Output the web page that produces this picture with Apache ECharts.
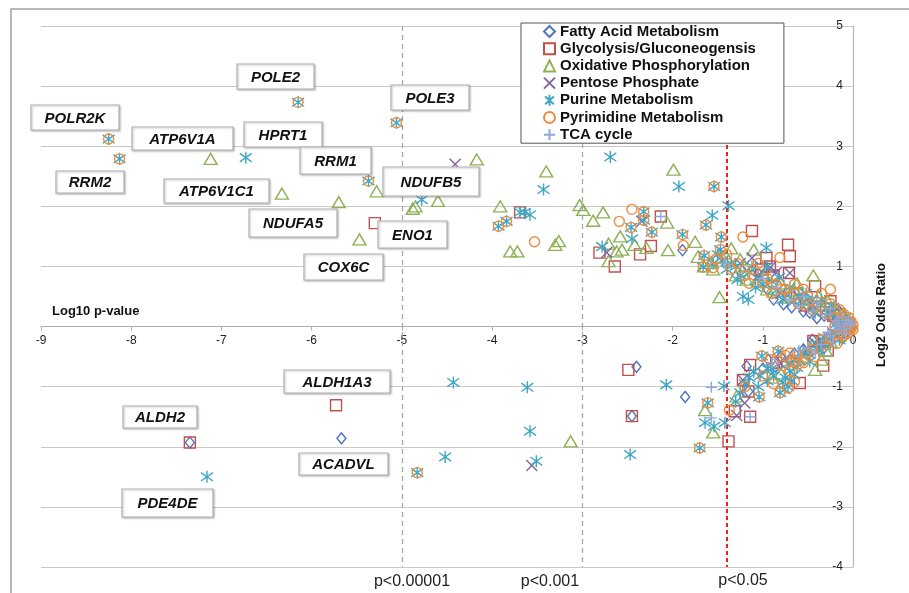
<!DOCTYPE html>
<html><head><meta charset="utf-8">
<script src="https://cdn.jsdelivr.net/npm/echarts@6/dist/echarts.min.js"></script>
<style>html,body{margin:0;padding:0;background:#fff}#c{width:909px;height:593px}</style>
</head><body><div id="c"></div><script>
// ---------- DATA ----------
const categories = ['Fatty Acid Metabolism','Glycolysis/Gluconeogensis','Oxidative Phosphorylation','Pentose Phosphate','Purine Metabolism','Pyrimidine Metabolism','TCA cycle'];

const fattyAcid = [
 [-7.35,-1.93],[-5.67,-1.86],[-2.40,-0.67],[-2.45,-1.49],[-1.86,-1.17],[-1.89,1.27],
 [-1.18,-0.66],[-1.16,-1.08],[-0.94,-0.55],[-0.86,-0.67],[-0.38,-0.33],[-0.55,-0.38],
 [-0.77,0.37],[-0.48,0.23],[-0.40,0.14],[-0.62,0.45],[-0.25,0.18],[-0.12,0.06],[-0.05,-0.04],
 [-0.28,-0.18],[-0.70,-0.55],[-0.18,-0.10],[-0.08,0.12],[-0.95,0.62],[-1.05,0.88],[-0.15,0.25],[-0.02,0.0],
 [-0.88,0.45],[-0.68,0.32],[-0.55,0.25],[-0.32,0.18],[-0.20,0.08],
 [-0.80,-0.50],[-0.65,-0.45],[-0.45,-0.22],[-0.32,-0.35],[-0.12,-0.20],[-1.00,-0.70]
];
const glycolysis = [
 [-7.35,-1.93],[-5.73,-1.31],[-5.30,1.72],[-3.69,1.90],[-2.81,1.23],[-2.64,1.00],[-2.36,1.20],[-2.24,1.34],[-2.13,1.83],
 [-1.12,1.59],[-0.72,1.36],[-0.70,1.17],[-0.96,1.14],[-0.71,0.89],[-0.92,1.00],[-0.42,0.67],[-1.02,0.95],
 [-2.49,-0.72],[-2.45,-1.49],[-1.38,-1.91],[-1.31,-1.41],[-1.14,-1.50],[-1.22,-0.89],[-1.14,-0.64],[-1.16,-1.08],
 [-0.59,-0.94],[-0.44,-0.24],[-0.33,-0.65],[-0.22,0.18],[-0.12,-0.10],[-0.30,0.30],[-0.05,0.05],
 [-0.88,0.85],[-0.62,0.55],[-0.52,0.35],[-0.25,0.42],[-0.15,0.20],
 [-0.85,-0.60],[-0.28,-0.40],[-0.18,-0.15],[-0.08,-0.02]
];
const oxidative = [
 [-7.12,2.79],[-6.33,2.21],[-5.70,2.07],[-5.28,2.25],[-5.47,1.45],[-4.88,1.96],[-4.85,2.0],[-4.60,2.09],[-4.17,2.78],
 [-3.40,2.58],[-3.91,2.00],[-3.80,1.25],[-3.72,1.25],[-3.30,1.36],[-3.26,1.42],[-3.03,2.02],[-2.99,1.94],[-2.88,1.76],
 [-2.77,1.90],[-2.58,1.50],[-2.71,1.38],[-2.56,1.28],[-2.71,1.09],[-2.62,1.25],[-2.42,1.36],[-2.29,1.31],[-2.05,1.27],
 [-2.06,1.73],[-1.99,2.61],[-1.75,1.41],[-1.72,1.16],[-1.48,0.49],[-1.65,1.00],[-1.58,1.06],
 [-1.45,1.15],[-1.35,1.30],[-1.30,0.85],[-1.20,1.00],[-1.10,1.28],[-1.05,0.75],[-0.95,0.62],[-0.80,0.72],[-0.65,0.60],
 [-0.55,0.45],[-0.44,0.85],[-0.35,0.35],[-0.25,0.25],[-0.15,0.15],[-0.08,0.05],[-1.55,0.95],
 [-1.38,1.10],[-1.25,1.12],[-1.18,0.78],[-0.98,0.85],[-0.88,0.58],[-0.72,0.48],[-0.62,0.72],[-0.50,0.38],
 [-0.38,0.50],[-0.28,0.42],[-0.20,0.30],[-0.10,0.20],[-0.05,0.10],
 [-3.13,-1.91],[-1.64,-1.39],[-1.55,-1.76],[-1.29,-1.16],[-0.42,-0.72],[-0.80,-0.78],[-0.30,-0.40],[-0.15,-0.15],[-0.55,-0.50],
 [-0.90,-0.85],[-0.65,-0.55],[-0.45,-0.30],[-0.25,-0.25],[-0.10,-0.10],[-0.35,-0.55]
];
const pentose = [
 [-4.41,2.70],[-3.56,-2.31],[-2.34,1.75],[-2.73,1.23],[-1.29,-1.48],[-1.22,-0.89],[-1.20,-1.27],[-1.12,1.14],
 [-0.92,0.98],[-0.70,0.89],[-1.05,0.85],[-0.50,-0.40],[-0.35,-0.25],[-0.60,0.50],[-0.25,0.20],[-0.10,0.0],
 [-1.25,1.05],[-0.85,0.90],[-0.80,0.55],[-0.45,0.35],[-0.15,0.10],
 [-0.80,-0.62],[-0.22,-0.12],[-0.42,-0.28]
];
const purine = [
 [-8.25,3.12],[-8.13,2.79],[-6.73,2.81],[-6.15,3.73],[-5.06,3.39],[-5.37,2.42],[-4.78,2.11],[-3.43,2.28],
 [-3.93,1.67],[-3.84,1.75],[-3.69,1.90],[-3.58,1.86],[-3.64,1.90],[-2.69,2.82],[-1.93,2.33],[-1.54,2.33],
 [-1.38,2.01],[-1.56,1.85],[-1.63,1.69],[-1.89,1.53],[-2.32,1.91],[-2.32,1.77],[-2.46,1.65],[-2.23,1.57],
 [-2.78,1.33],[-2.45,1.46],[-1.46,1.49],[-1.47,1.28],[-1.65,1.18],[-1.66,0.99],[-0.96,1.31],[-1.22,0.50],[-1.16,0.45],
 [-1.55,1.05],[-1.45,1.10],[-1.40,0.95],[-1.30,1.00],[-1.25,0.85],[-1.15,0.90],[-1.05,0.80],[-1.00,0.70],[-0.90,0.75],
 [-0.85,0.60],[-0.75,0.55],[-0.70,0.65],[-0.60,0.50],[-0.55,0.40],[-0.45,0.45],[-0.40,0.30],[-0.30,0.30],[-0.25,0.20],
 [-0.15,0.12],[-0.10,0.05],[-0.05,0.02],
 [-1.50,1.20],[-1.35,1.05],[-1.28,0.78],[-1.12,1.00],[-1.08,0.65],[-0.95,1.00],[-0.82,0.82],[-0.78,0.45],[-0.65,0.42],
 [-0.52,0.55],[-0.42,0.22],[-0.35,0.45],[-0.22,0.32],[-0.18,0.05],[-0.08,0.15],
 [-7.16,-2.50],[-4.83,-2.43],[-4.52,-2.17],[-4.43,-0.93],[-3.61,-1.01],[-3.58,-1.74],[-3.51,-2.24],[-2.47,-2.13],
 [-2.07,-0.97],[-1.43,-0.99],[-1.61,-1.27],[-1.64,-1.60],[-1.54,-1.66],[-1.42,-1.60],[-1.70,-2.02],[-1.03,-0.82],
 [-1.04,-1.17],[-1.01,-0.49],[-0.83,-0.41],[-0.78,-0.93],[-0.81,-1.10],[-0.70,-0.74],[-0.75,-0.85],[-0.90,-0.70],
 [-0.60,-0.55],[-0.50,-0.45],[-0.40,-0.30],[-0.30,-0.25],[-0.20,-0.12],[-1.30,-1.25],[-1.20,-0.95],[-0.95,-0.90],
 [-1.10,-0.75],[-0.65,-0.80],
 [-1.25,-1.10],[-1.15,-0.85],[-1.05,-1.00],[-0.95,-0.70],[-0.88,-0.82],[-0.72,-0.62],[-0.62,-0.68],[-0.55,-0.42],
 [-0.48,-0.58],[-0.38,-0.40],[-0.32,-0.18],[-0.25,-0.30],[-0.15,-0.22],[-0.10,-0.08],[-0.72,-1.00],[-0.76,-1.05],[-0.68,-0.90]
];
const pyrimidine = [
 [-8.25,3.12],[-8.13,2.79],[-6.15,3.73],[-5.06,3.39],[-5.37,2.42],[-4.83,-2.43],[-3.93,1.67],[-3.84,1.75],
 [-2.32,1.91],[-2.32,1.77],[-2.46,1.65],[-2.23,1.57],[-1.54,2.33],[-1.63,1.69],[-1.89,1.53],[-1.70,-2.02],[-1.61,-1.27],
 [-3.53,1.41],[-2.59,1.75],[-2.45,1.95],[-1.88,1.35],[-1.22,1.49],[-0.81,1.15],[-0.25,0.62],[-1.37,-1.39],
 [-1.04,-1.17],[-0.88,-0.95],[-0.70,-0.44],[-0.64,-0.58],[-0.51,-0.44],
 [-1.46,1.49],[-1.47,1.28],[-1.65,1.18],[-1.55,0.98],[-1.66,0.99],[-1.35,0.95],[-1.20,0.85],[-1.10,0.95],[-1.00,0.72],
 [-0.90,0.55],[-0.80,0.62],[-0.70,0.50],[-0.60,0.38],[-0.50,0.50],[-0.40,0.35],[-0.30,0.22],[-0.20,0.15],[-0.12,0.10],
 [-0.05,0.0],[-0.03,-0.05],
 [-1.52,1.12],[-1.40,1.20],[-1.28,1.05],[-1.15,0.72],[-1.05,1.05],[-0.95,0.80],[-0.85,0.70],[-0.75,0.62],[-0.65,0.70],
 [-0.55,0.62],[-0.45,0.28],[-0.35,0.55],[-0.25,0.38],[-0.15,0.28],[-0.10,0.20],[-0.02,0.08],[0,0.02],[-0.05,0.15],
 [-1.01,-0.49],[-0.83,-0.41],[-0.81,-1.10],[-0.70,-0.74],[-0.60,-0.62],[-0.45,-0.38],[-0.30,-0.30],[-0.15,-0.12],
 [-0.08,-0.05],[-0.20,0.0],
 [-1.20,-1.00],[-1.00,-0.82],[-0.92,-0.55],[-0.78,-0.65],[-0.75,-0.48],[-0.62,-0.48],[-0.55,-0.60],[-0.42,-0.50],
 [-0.35,-0.22],[-0.25,-0.20],[-0.18,-0.28],[-0.10,-0.15],[-0.05,-0.10],[-0.72,-1.02],[-0.65,-0.92],[-0.02,-0.02],[0,-0.05]
];
const tca = [
 [-2.13,1.83],[-1.57,-1.01],[-1.57,-1.52],[-1.14,-1.50],[-1.42,1.05],[-0.70,0.45],[-0.45,0.25],[-0.30,0.20],
 [-0.20,0.05],[-0.10,-0.05],[-0.35,-0.30],[-0.50,-0.35],[-0.25,-0.15],[-0.05,0.10],[-0.60,0.35],[-0.15,0.0],
 [-1.00,0.80],[-0.85,0.65],[-0.55,0.50],[-0.40,0.40],[-0.25,0.30],[-0.12,0.15],[-0.02,0.02],[-0.08,0.05],[-0.18,0.10],
 [-0.90,-0.60],[-0.60,-0.40],[-0.42,-0.45],[-0.28,-0.10],[-0.18,-0.05],[-0.08,-0.12],[-0.03,0.05],[-0.22,-0.25]
];
const seriesData = [fattyAcid, glycolysis, oxidative, pentose, purine, pyrimidine, tca];
const sigLines = [-5, -3, -1.4];
const sigLabels = ['p<0.00001','p<0.001','p<0.05'];

// ---------- STYLE / LAYOUT ----------
const colors = ['#4F74C0','#C0504D','#8DB255','#8064A2','#3FA7C4','#F08A3C','#8EA8DA'];
const symbols = ['diamond','rect','triangle','path://M0,0L10,10M10,0L0,10',
  'path://M1,1.5L9,8.5M9,1.5L1,8.5M5,0L5,10','circle','path://M5,0L5,10M0,5L10,5'];
const sizes = [[9,11],11,[13,11],11,12,10,11];

const geneBoxes = [
 ['POLE2',237,64,314,89],['POLE3',391,85,469,110],['POLR2K',31,105,119,130],['ATP6V1A',132,127,233,150],
 ['HPRT1',244,122,322,147],['RRM1',300,147,371,174],['RRM2',56,171,124,193],['NDUFB5',383,167,479,196],
 ['ATP6V1C1',164,179,269,203],['NDUFA5',249,209,337,237],['ENO1',378,221,447,248],['COX6C',304,254,383,280],
 ['ALDH1A3',284,370,390,393],['ALDH2',123,406,197,428],['ACADVL',299,453,388,475],['PDE4DE',122,489,213,517]
];
const sigLabelPos = [[412,582],[550,582],[743,581]];

const chart = echarts.init(document.getElementById('c'));
const series = categories.map((name,i)=>({
  name, type:'scatter', data: seriesData[i], symbol: symbols[i], symbolSize: sizes[i],
  itemStyle:{color:'transparent', borderColor: colors[i], borderWidth:1.4, opacity:1},
  emphasis:{disabled:true}, z: 2+i*0.01
}));
series[0].markLine = {
  silent:true, symbol:['none','none'], label:{show:false}, z:1,
  data: sigLines.map((v,i)=>[
    {coord:[v,5], lineStyle: i<2 ? {color:'#a8a8a8',width:1.3,type:[5,4]} : {color:'#ff1a1a',width:2,type:[4,3]}},
    {coord:[v,-4]}
  ])
};

const graphic = [
  {type:'rect', shape:{x:11,y:9,width:1000,height:1000}, style:{fill:'none',stroke:'#a0a0a0',lineWidth:1.5}, silent:true, z:0},
  {type:'text', x:52, y:311, style:{text:'Log10 p-value', font:'bold 13px Arial', fill:'#111', textVerticalAlign:'middle', verticalAlign:'middle'}, z:5},
  {type:'text', x:881, y:315, rotation:Math.PI/2, style:{text:'Log2 Odds Ratio', font:'bold 13px Arial', fill:'#111', textAlign:'center', align:'center', textVerticalAlign:'middle', verticalAlign:'middle'}, z:5}
];
sigLabels.forEach((t,i)=>graphic.push({type:'text', x:sigLabelPos[i][0], y:sigLabelPos[i][1],
  style:{text:t, font:'16px Arial', fill:'#222', textAlign:'center', align:'center', textVerticalAlign:'middle', verticalAlign:'middle'}, z:5}));
geneBoxes.forEach(b=>{
  graphic.push({type:'rect', shape:{x:b[1],y:b[2],width:b[3]-b[1],height:b[4]-b[2]},
    style:{fill:'#fff',stroke:'#b4b4b4',lineWidth:1.2,shadowBlur:2,shadowColor:'rgba(0,0,0,0.25)',shadowOffsetX:1,shadowOffsetY:1}, z:20});
  graphic.push({type:'text', x:(b[1]+b[3])/2, y:(b[2]+b[4])/2+1,
    style:{text:b[0], font:'italic bold 15px Arial', fill:'#111', textAlign:'center', align:'center', textVerticalAlign:'middle', verticalAlign:'middle'}, z:21});
});

chart.setOption({
  animation:false,
  backgroundColor:'#fff',
  grid:{left:41, right:56, top:26, bottom:26},
  xAxis:{type:'value', min:-9, max:0, interval:1, position:'bottom', offset:-240.4,
    axisLine:{onZero:false, lineStyle:{color:'#b0b0b0', width:1.2}},
    axisTick:{show:true, length:4, lineStyle:{color:'#b0b0b0'}},
    axisLabel:{color:'#222', fontSize:12, fontFamily:'Arial', margin:8},
    splitLine:{show:false}},
  yAxis:{type:'value', min:-4, max:5, interval:1, position:'right',
    axisLine:{show:true, onZero:false, lineStyle:{color:'#b8b8b8', width:1.2}},
    axisTick:{show:false},
    axisLabel:{inside:true, color:'#222', fontSize:12, fontFamily:'Arial', margin:10},
    splitLine:{show:true, lineStyle:{color:'#c8c8c8', width:1.2}}},
  legend:{orient:'vertical', left:521, top:23, padding:[1,28,1,22], itemGap:2.2, itemWidth:11, itemHeight:11,
    backgroundColor:'#fff', borderColor:'#555', borderWidth:1, selectedMode:false, z:10,
    textStyle:{fontFamily:'Arial', fontWeight:'bold', fontSize:15, lineHeight:15, color:'#111'},
    data: categories},
  graphic,
  series
});
</script></body></html>
